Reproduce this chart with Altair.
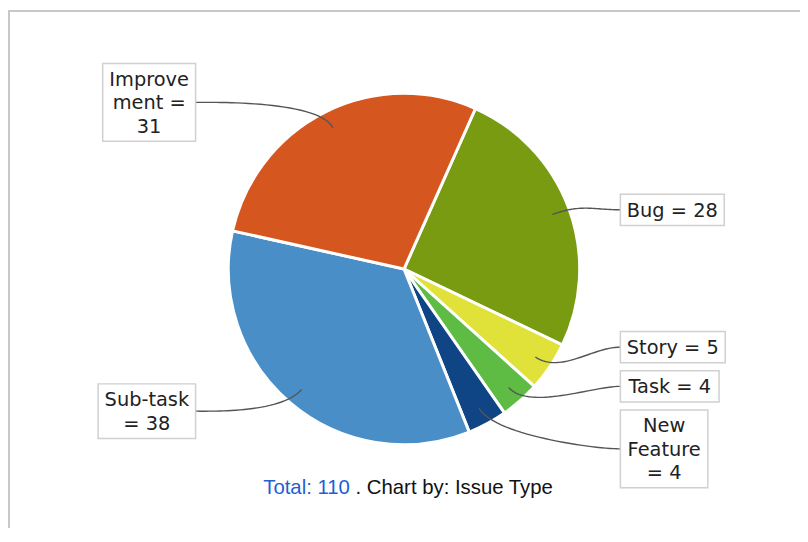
import math
import altair as alt
import pandas as pd

# ---------------- data ----------------
categories = ["Bug", "Story", "Task", "New Feature", "Sub-task", "Improvement"]
counts = [28, 5, 4, 4, 38, 31]
label_lines = [
    ["Bug = 28"],
    ["Story = 5"],
    ["Task = 4"],
    ["New", "Feature", "= 4"],
    ["Sub-task", "= 38"],
    ["Improve", "ment =", "31"],
]
colors = ["#789b12", "#e0e23a", "#5ebc45", "#0f4485", "#4a8ec8", "#d5561f"]
caption_total = "Total: 110"
caption_rest = ". Chart by: Issue Type"

# ---------------- layout / style ----------------
W, H = 798, 522
cx, cy = W / 2, H / 2
R = 177
START = math.radians(24)
LABEL_FS = 19.5
LINE_H = 23.5
PAD_X, PAD_Y = 6.5, 4
LINK_PCT = 0.9
R_LINK = 190
R_LABEL_Y = {"R": 173, "L": 188}
BOX_OFFSET_R = 218
BOX_OFFSET_L = 210
GAP = 8
CAP_FS = 20.5

DV = {" ": 651, "-": 739, "=": 1716, "B": 1405, "F": 1178, "I": 604, "N": 1532,
      "S": 1300, "T": 1251, "a": 1255, "b": 1300, "e": 1260, "g": 1300,
      "k": 1186, "m": 1995, "n": 1298, "o": 1253, "p": 1300, "r": 842,
      "s": 1067, "t": 803, "u": 1298, "v": 1212, "w": 1675, "y": 1212}
AR = {" ": 278, ".": 278, ":": 278, "T": 611, "C": 722, "I": 278, "a": 556,
      "b": 556, "e": 556, "h": 556, "l": 222, "o": 556, "p": 556, "r": 333,
      "s": 500, "t": 278, "u": 556, "y": 500}


def dv_width(s, fs):
    return sum(DV.get(c, 1303) for c in s) / 2048 * fs


def ar_width(s, fs):
    return sum(AR.get(c, 556) for c in s) / 1000 * fs


total = sum(counts)
items = []
acc = 0
for i, (cat, n, lines) in enumerate(zip(categories, counts, label_lines)):
    a0 = START + acc / total * 2 * math.pi
    acc += n
    a1 = START + acc / total * 2 * math.pi
    mid = (a0 + a1) / 2
    side = "R" if math.sin(mid) >= 0 else "L"
    tw = max(dv_width(l, LABEL_FS) for l in lines)
    bw = tw + 2 * PAD_X
    bh = len(lines) * LINE_H + 2 * PAD_Y
    items.append(dict(i=i, cat=cat, mid=mid, side=side, bw=bw, h=bh, lines=lines,
                      desired=cy - R_LABEL_Y[side] * math.cos(mid)))


def place(block):
    offs, a = [], 0
    for it in block:
        offs.append(a + it["h"] / 2)
        a += it["h"] + GAP
    tot = a - GAP
    top = sum(it["desired"] - o for it, o in zip(block, offs)) / len(block)
    return top, tot, offs


for side in ("R", "L"):
    group = sorted([it for it in items if it["side"] == side], key=lambda d: d["desired"])
    blocks = [[it] for it in group]
    changed = True
    while changed:
        changed = False
        for k in range(len(blocks) - 1):
            t1, h1, _ = place(blocks[k])
            t2, _, _ = place(blocks[k + 1])
            if t1 + h1 + GAP > t2:
                blocks[k] = blocks[k] + blocks[k + 1]
                del blocks[k + 1]
                changed = True
                break
    for b in blocks:
        top, tot, offs = place(b)
        for it, o in zip(b, offs):
            it["y"] = top + o

box_rows, text_rows, line_rows = [], [], []
for it in items:
    ty = it["y"]
    if it["side"] == "R":
        x0 = cx + BOX_OFFSET_R
        x1 = x0 + it["bw"]
        tx_edge = x0
        anchor_x = cx + R_LINK
    else:
        x1 = cx - BOX_OFFSET_L
        x0 = x1 - it["bw"]
        tx_edge = x1
        anchor_x = cx - R_LINK
    n_lines = len(it["lines"])
    box_rows.append(dict(cat=it["cat"], x0=x0, x1=x1, y0=ty - it["h"] / 2, y1=ty + it["h"] / 2))
    text_rows.append(dict(cat=it["cat"], x=(x0 + x1) / 2,
                          y=ty + 1 - (n_lines - 1) * LINE_H / 2,
                          txt="\n".join(it["lines"])))
    m = it["mid"]
    p0 = (cx + LINK_PCT * R * math.sin(m), cy - LINK_PCT * R * math.cos(m))
    p1 = (cx + R_LINK * math.sin(m), cy - R_LINK * math.cos(m))
    p2 = (anchor_x, ty)
    p3 = (tx_edge, ty)
    for k in range(31):
        t = k / 30
        u = 1 - t
        bx = u**3 * p0[0] + 3 * u * u * t * p1[0] + 3 * u * t * t * p2[0] + t**3 * p3[0]
        by = u**3 * p0[1] + 3 * u * u * t * p1[1] + 3 * u * t * t * p2[1] + t**3 * p3[1]
        line_rows.append(dict(cat=it["cat"], k=k, x=bx, y=by))

pie_df = pd.DataFrame({"cat": categories, "count": counts, "idx": list(range(len(categories)))})
box_df = pd.DataFrame(box_rows)
text_df = pd.DataFrame(text_rows)
line_df = pd.DataFrame(line_rows)

w1 = ar_width(caption_total, CAP_FS)
ws = ar_width(" ", CAP_FS)
w2 = ar_width(caption_rest, CAP_FS)
cap_start = cx + 3 - (w1 + ws + w2) / 2
split_x = cap_start + w1
cap_y = cy + R + 50
cap_df = pd.DataFrame({
    "txt": [caption_total, caption_rest],
    "x": [split_x, split_x + ws],
    "y": [cap_y, cap_y],
})

xs = alt.Scale(domain=[0, W], range=[0, W])
ys = alt.Scale(domain=[0, H], range=[0, H])

pie = alt.Chart(pie_df).mark_arc(outerRadius=R, stroke="white", strokeWidth=3).encode(
    theta=alt.Theta("count:Q", stack=True,
                    scale=alt.Scale(range=[START, START + 2 * math.pi])),
    order=alt.Order("idx:Q"),
    color=alt.Color("cat:N", scale=alt.Scale(domain=categories, range=colors), legend=None),
)

links = alt.Chart(line_df).mark_line(color="#555555", strokeWidth=1.4).encode(
    x=alt.X("x:Q", scale=xs, axis=None),
    y=alt.Y("y:Q", scale=ys, axis=None),
    detail="cat:N",
    order="k:Q",
)

boxes = alt.Chart(box_df).mark_rect(fill="white", stroke="#d0d0d0", strokeWidth=1.5).encode(
    x=alt.X("x0:Q", scale=xs, axis=None), x2="x1:Q",
    y=alt.Y("y0:Q", scale=ys, axis=None), y2="y1:Q",
)

texts = alt.Chart(text_df).mark_text(
    font="DejaVu Sans", fontSize=LABEL_FS, color="#222222", align="center",
    baseline="middle", lineBreak="\n", lineHeight=LINE_H,
).encode(
    x=alt.X("x:Q", scale=xs, axis=None),
    y=alt.Y("y:Q", scale=ys, axis=None),
    text="txt:N",
)

cap_total = alt.Chart(cap_df.iloc[[0]]).mark_text(
    font="Liberation Sans", fontSize=CAP_FS, align="right", baseline="alphabetic",
    color="#1d5fd5",
).encode(
    x=alt.X("x:Q", scale=xs, axis=None),
    y=alt.Y("y:Q", scale=ys, axis=None),
    text="txt:N",
)
cap_rest = alt.Chart(cap_df.iloc[[1]]).mark_text(
    font="Liberation Sans", fontSize=CAP_FS, align="left", baseline="alphabetic",
    color="#111111",
).encode(
    x=alt.X("x:Q", scale=xs, axis=None),
    y=alt.Y("y:Q", scale=ys, axis=None),
    text="txt:N",
)

frame_top = alt.Chart(pd.DataFrame({"a": [0]})).mark_rule(color="#c8c8c8", strokeWidth=2).encode(
    x=alt.value(0), x2=alt.value(W), y=alt.value(1))
frame_left = alt.Chart(pd.DataFrame({"a": [0]})).mark_rule(color="#c8c8c8", strokeWidth=2).encode(
    x=alt.value(1), y=alt.value(0), y2=alt.value(H))

chart = alt.layer(frame_top, frame_left, pie, links, boxes, texts, cap_total, cap_rest).properties(
    width=W, height=H, padding=0, autosize=alt.AutoSizeParams(type="none"),
).configure_view(stroke=None)

chart.save("out.html", embed_options={"renderer": "svg", "actions": False})
